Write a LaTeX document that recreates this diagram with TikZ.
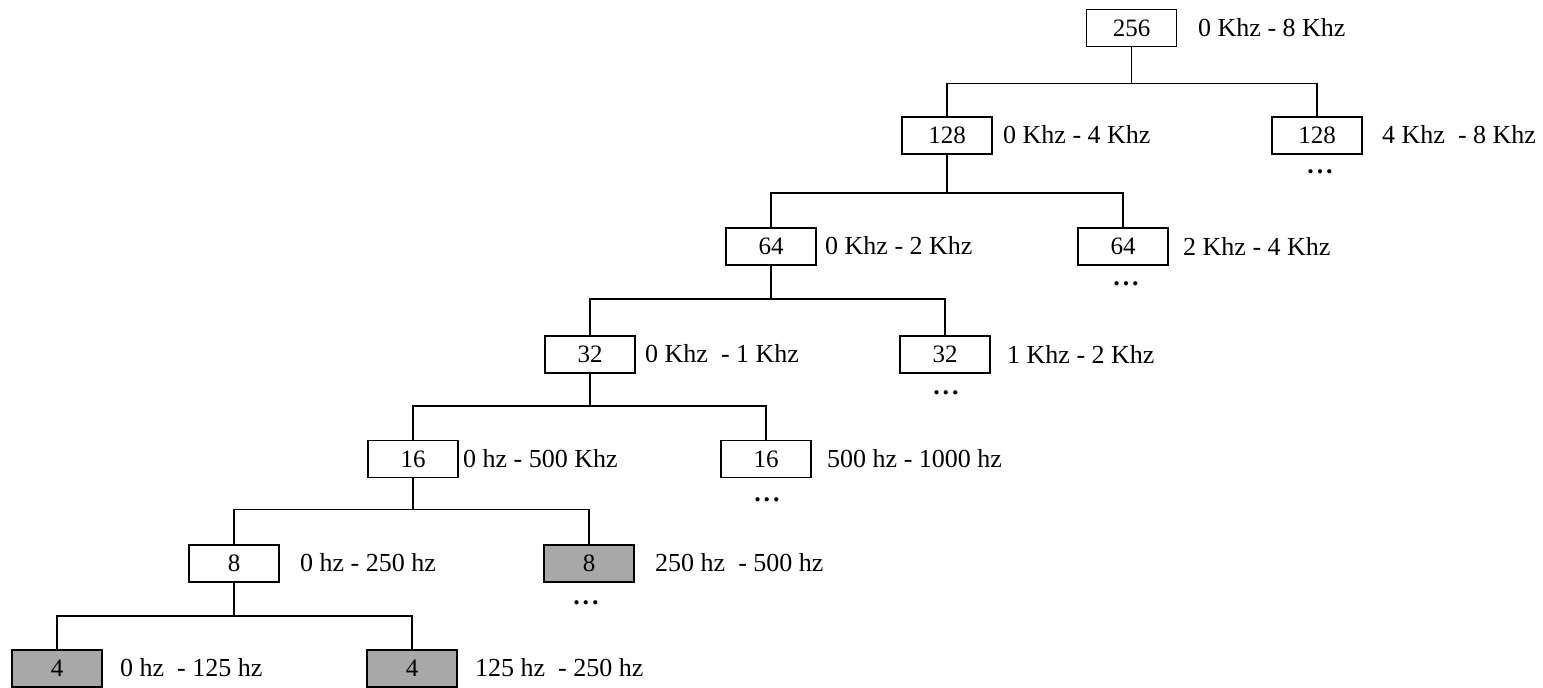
\documentclass[tikz,border=0pt]{standalone}
\usepackage{fontspec}
\setmainfont{Liberation Serif}
\begin{document}
\begin{tikzpicture}[x=1pt,y=-1pt,
  box/.style={draw=black,line width=1.8pt,minimum width=90pt,minimum height=37pt,inner sep=0pt,font=\fontsize{25}{28}\selectfont,fill=white},
  gbox/.style={box,fill=boxgray},
  lab/.style={anchor=west,inner sep=0pt,font=\fontsize{26}{28}\selectfont},
  dots/.style={inner sep=0pt,font=\fontsize{26}{28}\selectfont\bfseries},
  conn/.style={line width=1.8pt,draw=black}]
\definecolor{boxgray}{HTML}{A8A8A8}
\useasboundingbox (0,0) rectangle (1543,688);
% boxes
\node[box]  (n256)  at (1131.5,28)  {256};
\node[box]  (n128a) at (947,135.5)  {128};
\node[box]  (n128b) at (1317,135.5) {128};
\node[box]  (n64a)  at (771,246.5)  {64};
\node[box]  (n64b)  at (1123,246.5) {64};
\node[box]  (n32a)  at (590,354.5)  {32};
\node[box]  (n32b)  at (945,354.5)  {32};
\node[box]  (n16a)  at (413,459)    {16};
\node[box]  (n16b)  at (766,459)    {16};
\node[box]  (n8a)   at (234,563.5)  {8};
\node[gbox] (n8b)   at (589,563.5)  {8};
\node[gbox] (n4a)   at (57,668.5)   {4};
\node[gbox] (n4b)   at (412,668.5)  {4};
% labels
\node[lab] (l256)  at (1198,28)  {0 Khz - 8 Khz};
\node[lab] (l128a) at (1003,135) {0 Khz - 4 Khz};
\node[lab] (l128b) at (1382,135) {4 Khz \ - 8 Khz};
\node[lab] (l64a)  at (825,246)  {0 Khz - 2 Khz};
\node[lab] (l64b)  at (1183,246) {2 Khz - 4 Khz};
\node[lab] (l32a)  at (645,354)  {0 Khz \ - 1 Khz};
\node[lab] (l32b)  at (1007,354) {1 Khz - 2 Khz};
\node[lab] (l16a)  at (463,459)  {0 hz - 500 Khz};
\node[lab] (l16b)  at (827,459)  {500 hz - 1000 hz};
\node[lab] (l8a)   at (300,563)  {0 hz - 250 hz};
\node[lab] (l8b)   at (655,563)  {250 hz \ - 500 hz};
\node[lab] (l4a)   at (120,668)  {0 hz \ - 125 hz};
\node[lab] (l4b)   at (475,668)  {125 hz \ - 250 hz};
% continuation dots
\node[dots] (d128b) at (1320,172) {.\hspace{3pt}.\hspace{3pt}.};
\node[dots] (d64b)  at (1126,284) {.\hspace{3pt}.\hspace{3pt}.};
\node[dots] (d32b)  at (946,393)  {.\hspace{3pt}.\hspace{3pt}.};
\node[dots] (d16b)  at (767,500)  {.\hspace{3pt}.\hspace{3pt}.};
\node[dots] (d8b)   at (586,603)  {.\hspace{3pt}.\hspace{3pt}.};
% connectors
\draw[conn] (n256.south) -- ++(0,36) -| (n128a.north);
\draw[conn] (n256.south) -- ++(0,36) -| (n128b.north);
\draw[conn] (n128a.south) -- ++(0,38) -| (n64a.north);
\draw[conn] (n128a.south) -- ++(0,38) -| (n64b.north);
\draw[conn] (n64a.south) -- ++(0,33) -| (n32a.north);
\draw[conn] (n64a.south) -- ++(0,33) -| (n32b.north);
\draw[conn] (n32a.south) -- ++(0,32) -| (n16a.north);
\draw[conn] (n32a.south) -- ++(0,32) -| (n16b.north);
\draw[conn] (n16a.south) -- ++(0,31) -| (n8a.north);
\draw[conn] (n16a.south) -- ++(0,31) -| (n8b.north);
\draw[conn] (n8a.south) -- ++(0,33) -| (n4a.north);
\draw[conn] (n8a.south) -- ++(0,33) -| (n4b.north);
\end{tikzpicture}
\end{document}
